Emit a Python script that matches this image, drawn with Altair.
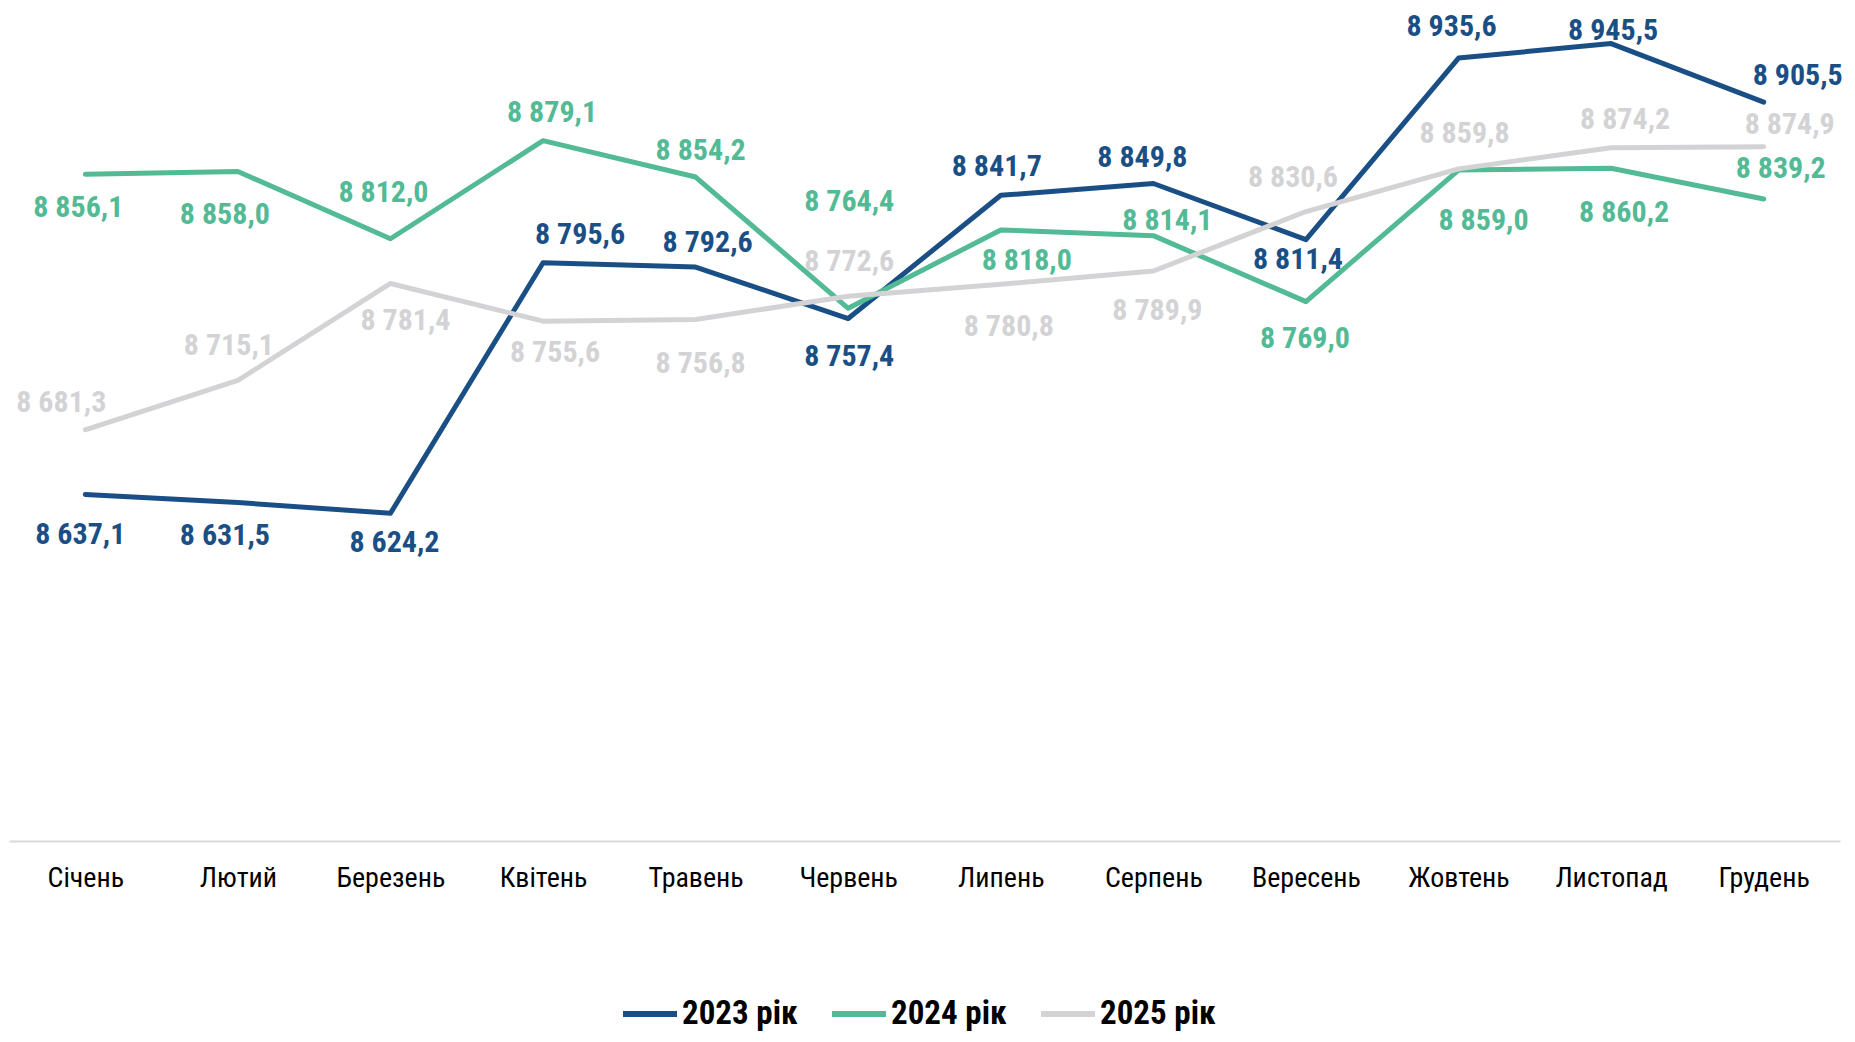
import altair as alt
import pandas as pd

months = ["Січень", "Лютий", "Березень", "Квітень", "Травень", "Червень",
          "Липень", "Серпень", "Вересень", "Жовтень", "Листопад", "Грудень"]
series = ["2023 рік", "2024 рік", "2025 рік"]
v2023 = [8637.1, 8631.5, 8624.2, 8795.6, 8792.6, 8757.4, 8841.7, 8849.8, 8811.4, 8935.6, 8945.5, 8905.5]
v2024 = [8856.1, 8858.0, 8812.0, 8879.1, 8854.2, 8764.4, 8818.0, 8814.1, 8769.0, 8859.0, 8860.2, 8839.2]
v2025 = [8681.3, 8715.1, 8781.4, 8755.6, 8756.8, 8772.6, 8780.8, 8789.9, 8830.6, 8859.8, 8874.2, 8874.9]
colors = ["#1A4F86", "#52BA94", "#D3D3D5"]

# label offsets in pixels (layout only)
dx2023 = [-5, -13, 4, 37, 12, 1, -4, -11, -8, -7, 2, 34]
dy2023 = [41, 33, 30, -28, -24, 38, -28, -25, 20, -31, -13, -26]
dx2024 = [-7, -13, -7, 9, 5, 1, 26, 14, -1, 25, 13, 17]
dy2024 = [34, 44, -46, -28, -26, -106, 31, -15, 37, 51, 45, -30]
dx2025 = [-24, -9, 15, 12, 5, 1, 8, 4, -13, 6, 14, 26]
dy2025 = [-27, -34, 38, 32, 45, -34, 43, 40, -34, -35, -28, -22]

W, H = 1831, 804
YMIN, YMAX = 8400, 8950
pxx = W / 12.0
pxy = H / (YMAX - YMIN)

def fmt(v):
    return f"{v:,.1f}".replace(",", " ").replace(".", ",")

rows = []
for s, vals, dxs, dys in zip(series, [v2023, v2024, v2025],
                             [dx2023, dx2024, dx2025], [dy2023, dy2024, dy2025]):
    for i, (m, v) in enumerate(zip(months, vals)):
        rows.append({"i": i, "month": m, "series": s, "value": v,
                     "label": fmt(v), "dx": dxs[i], "dy": dys[i]})
df = pd.DataFrame(rows)

FONT = "Roboto Condensed, DejaVu Sans Condensed, Liberation Sans Narrow, Liberation Sans, sans-serif"
label_expr = "[" + ",".join(f"'{m}'" for m in months) + "][datum.value]"

xscale = alt.Scale(domain=[-0.5, 11.5], nice=False, zero=False)
yscale = alt.Scale(domain=[YMIN, YMAX], nice=False, zero=False)
cscale = alt.Scale(domain=series, range=colors)

base = alt.Chart(df)

lines = base.mark_line(strokeWidth=5, strokeJoin="round", strokeCap="round", clip=False).encode(
    x=alt.X("i:Q", scale=xscale, title=None,
            axis=alt.Axis(values=list(range(12)), labelExpr=label_expr, grid=False,
                          ticks=False, domainColor="#D9D9D9", domainWidth=2,
                          labelFont=FONT, labelFontSize=28, labelColor="#000000",
                          labelPadding=23, labelFlush=False, labelOverlap=False)),
    y=alt.Y("value:Q", scale=yscale, axis=None),
    color=alt.Color("series:N", scale=cscale,
                    legend=alt.Legend(title=None, orient="none", direction="horizontal",
                                      legendX=611, legendY=947,
                                      symbolType="stroke", symbolSize=2916,
                                      symbolStrokeWidth=6, labelFont=FONT,
                                      labelFontSize=33, labelFontWeight="bold",
                                      labelColor="#000000", labelOffset=2,
                                      labelLimit=400, columnPadding=22,
                                      symbolOffset=0)),
    order=alt.Order("series:N"),
)

texts = base.transform_calculate(
    lx=f"datum.i + datum.dx / {pxx}",
    ly=f"datum.value - datum.dy / {pxy}",
).mark_text(font=FONT, fontSize=30, fontWeight="bold", align="center",
            baseline="middle", clip=False).encode(
    x=alt.X("lx:Q", scale=xscale),
    y=alt.Y("ly:Q", scale=yscale),
    text="label:N",
    color=alt.Color("series:N", scale=cscale, legend=None),
)

chart = alt.layer(lines, texts).properties(
    width=W, height=H,
    background="#FFFFFF",
    padding={"left": 1, "top": 29, "right": 7, "bottom": 193},
    autosize=alt.AutoSizeParams(type="none"),
).configure_view(strokeWidth=0, stroke="transparent")

chart.save("out.html", embed_options={"renderer": "svg", "actions": False})
